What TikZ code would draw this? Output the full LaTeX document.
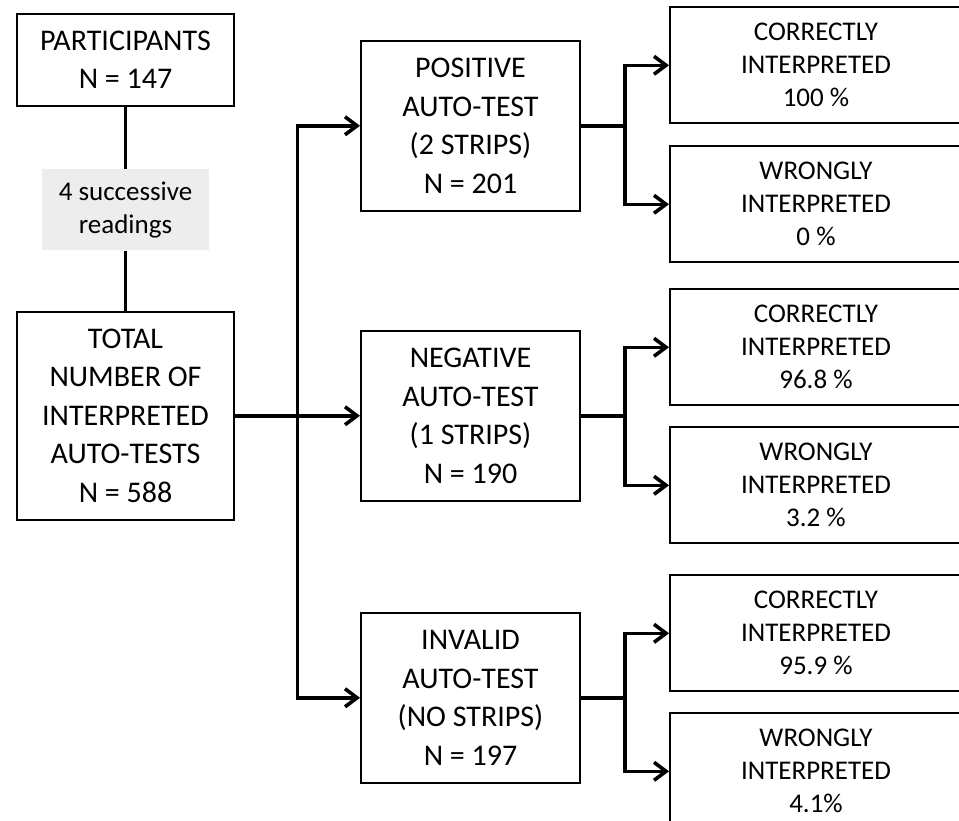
\documentclass[tikz,border=0pt]{standalone}
\usepackage{fontspec}
\setmainfont{Carlito}
\usetikzlibrary{positioning,calc,arrows.meta}

\begin{document}
\begin{tikzpicture}[
    startbox/.style={rectangle, draw=black, line width=1pt, minimum width=108.5pt, minimum height=46pt, align=center, font=\fontsize{15}{19.25}\selectfont},
    readbox/.style={rectangle, fill=black!7, minimum width=83.5pt, minimum height=40.5pt, align=center, font=\fontsize{13.5}{16.5}\selectfont},
    totalbox/.style={startbox, minimum height=104pt},
    testbox/.style={startbox, minimum width=109.5pt, minimum height=85pt},
    resultbox/.style={rectangle, draw=black, line width=1pt, minimum width=146pt, minimum height=58pt, align=center, font=\fontsize{13.5}{16.5}\selectfont},
    link/.style={draw=black, line width=1.8pt},
    flow/.style={link, -{Straight Barb[length=6pt, width=9pt]}}
]

% Page frame
\useasboundingbox (0,0) rectangle (479.5pt,-410pt);
\clip (0,0) rectangle (479.5pt,-410pt);

% Left column
\node (part) [startbox] at (62.75pt,-30pt) {PARTICIPANTS\\N = 147};
\node (readings) [readbox, below=31pt of part] {4 successive\\readings};
\node (total) [totalbox, below=30pt of readings] {TOTAL\\NUMBER OF\\INTERPRETED\\AUTO-TESTS\\N = 588};

% Auto-test results
\node (neg) [testbox, right=62.5pt of total] {NEGATIVE\\AUTO-TEST\\(1 STRIPS)\\N = 190};
\node (pos) [testbox, above=59pt of neg] {POSITIVE\\AUTO-TEST\\(2 STRIPS)\\N = 201};
\node (inv) [testbox, below=55pt of neg] {INVALID\\AUTO-TEST\\(NO STRIPS)\\N = 197};

% Interpretation
\node (poscorr) [resultbox, right=44pt of pos, yshift=30.25pt] {CORRECTLY\\INTERPRETED\\100 \%};
\node (poswrong) [resultbox, below=10.5pt of poscorr] {WRONGLY\\INTERPRETED\\0 \%};
\node (negcorr) [resultbox, right=44pt of neg, yshift=34.25pt] {CORRECTLY\\INTERPRETED\\96.8 \%};
\node (negwrong) [resultbox, below=10pt of negcorr] {WRONGLY\\INTERPRETED\\3.2 \%};
\node (invcorr) [resultbox, right=44pt of inv, yshift=32.25pt] {CORRECTLY\\INTERPRETED\\95.9 \%};
\node (invwrong) [resultbox, below=10pt of invcorr] {WRONGLY\\INTERPRETED\\4.1\%};

% Connectors
\draw [link] (part) -- (readings);
\draw [link] (readings) -- (total);
\coordinate (split) at ($(total.east)!0.5!(neg.west)$);
\draw [link] (total) -- (split);
\draw [flow] (split) |- (pos);
\draw [flow] (split) -- (neg);
\draw [flow] (split) |- (inv);

\coordinate (posfork) at ($(pos.east)!0.5!(poscorr.west |- pos.east)$);
\draw [link] (pos) -- (posfork);
\draw [flow] (posfork) |- (poscorr);
\draw [flow] (posfork) |- (poswrong);

\coordinate (negfork) at ($(neg.east)!0.5!(negcorr.west |- neg.east)$);
\draw [link] (neg) -- (negfork);
\draw [flow] (negfork) |- (negcorr);
\draw [flow] (negfork) |- (negwrong);

\coordinate (invfork) at ($(inv.east)!0.5!(invcorr.west |- inv.east)$);
\draw [link] (inv) -- (invfork);
\draw [flow] (invfork) |- (invcorr);
\draw [flow] (invfork) |- (invwrong);

\end{tikzpicture}
\end{document}
